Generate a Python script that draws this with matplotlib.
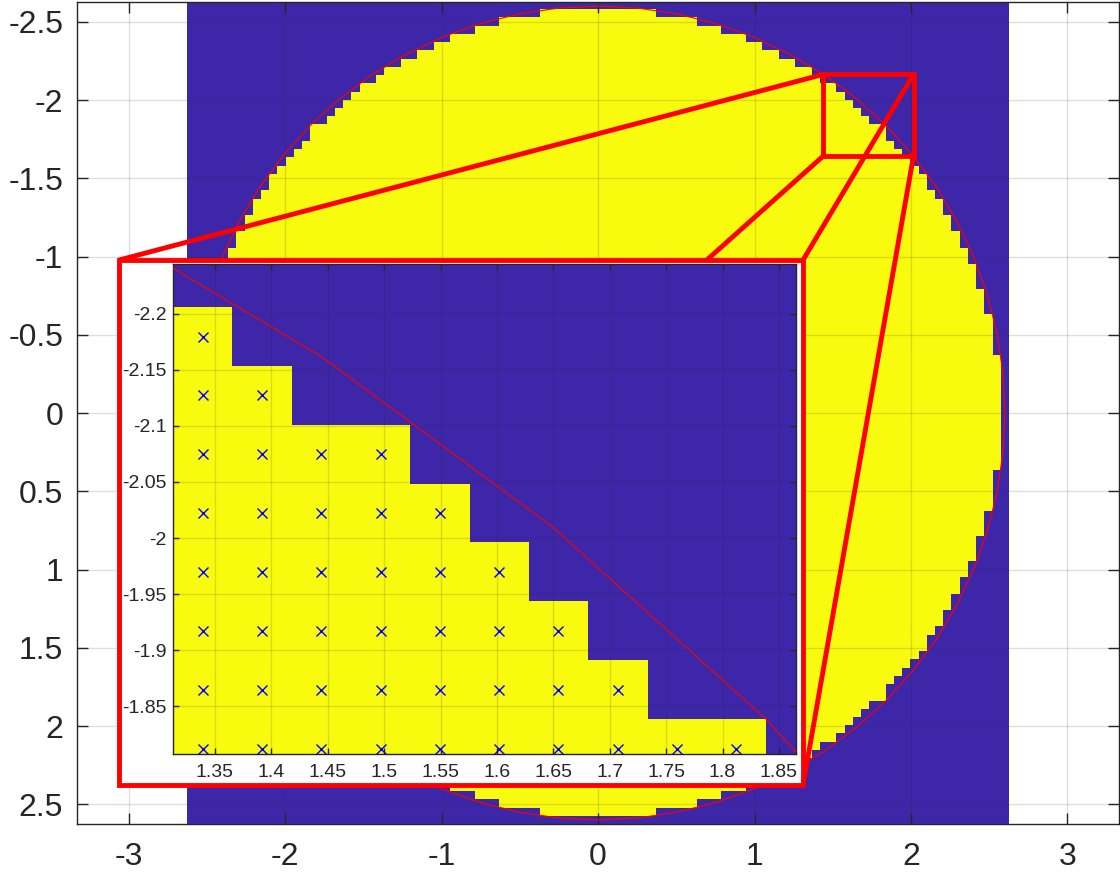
import numpy as np
import matplotlib.pyplot as plt
from matplotlib.colors import ListedColormap
from matplotlib.lines import Line2D
from matplotlib.patches import Rectangle
from matplotlib.ticker import FormatStrFormatter

plt.rcParams["font.family"] = ["Liberation Sans", "DejaVu Sans"]
plt.rcParams["axes.unicode_minus"] = False

# disc sampled on a square grid
radius = 2.6
n_grid = 100
n_circle = 65

# axis ticks
main_xticks = [-3, -2, -1, 0, 1, 2, 3]
main_yticks = [-2.5, -2, -1.5, -1, -0.5, 0, 0.5, 1, 1.5, 2, 2.5]
inset_xticks = [1.35, 1.4, 1.45, 1.5, 1.55, 1.6, 1.65, 1.7, 1.75, 1.8, 1.85]
inset_yticks = [-2.2, -2.15, -2.1, -2.05, -2, -1.95, -1.9, -1.85]

# magnified region and the box marking it on the full view
inset_xlim = (1.3131, 1.8655)
inset_ylim = (-1.8073, -2.2445)
zoom_box = (1.44, 2.016, -2.164, -1.643)  # x0, x1, y_top, y_bottom

blue = "#3E26A8"
yellow = "#F9FB0E"
dark = (0.15, 0.15, 0.15)
cmap = ListedColormap([blue, yellow])

grid = np.linspace(-radius, radius, n_grid)
step = grid[1] - grid[0]
X, Y = np.meshgrid(grid, grid)
# a cell is filled only when its whole square lies within the disc
inside = (np.abs(X) + step / 2) ** 2 + (np.abs(Y) + step / 2) ** 2 <= radius ** 2

theta = np.linspace(0, 2 * np.pi, n_circle)
cx = radius * np.cos(theta)
cy = radius * np.sin(theta)

half = radius + step / 2
extent = (-half, half, half, -half)


def style_axes(ax, size, pad_x, pad_y, tick_len):
    ax.grid(True, color=dark, alpha=0.15, linewidth=1)
    ax.set_axisbelow(False)
    ax.tick_params(direction="in", top=True, right=True, length=tick_len,
                   width=1, colors=dark, labelsize=size)
    ax.tick_params(axis="x", pad=pad_x)
    ax.tick_params(axis="y", pad=pad_y)
    ax.xaxis.set_major_formatter(FormatStrFormatter("%g"))
    ax.yaxis.set_major_formatter(FormatStrFormatter("%g"))
    for s in ax.spines.values():
        s.set_color(dark)
        s.set_linewidth(1)


fig = plt.figure(figsize=(11.2, 8.8), dpi=100)

# full view
ax = fig.add_axes([0.0688, 0.0636, 0.9304, 0.9341])
ax.imshow(inside, cmap=cmap, extent=extent, origin="upper",
          interpolation="nearest", aspect="auto", zorder=0)
ax.plot(cx, cy, color="red", linewidth=0.8, zorder=3)
ax.set_xlim(-3.33, 3.33)
ax.set_ylim(half, -half)
ax.set_xticks(main_xticks)
ax.set_yticks(main_yticks)
style_axes(ax, 23, 13, 10, 8)

x0, x1, yt, yb = zoom_box
ax.add_patch(Rectangle((x0, yt), x1 - x0, yb - yt, fill=False,
                       edgecolor="red", linewidth=3.5, zorder=4))

# white framed panel holding the magnified view
frame = (0.10625, 0.1080, 0.7170, 0.7045)  # left, bottom, right, top
fl, fb, fr, ft = frame

to_fig = fig.transFigure.inverted()


def box_corner(x, y):
    return to_fig.transform(ax.transData.transform((x, y)))


pairs = [
    (box_corner(x0, yt), (fl, ft)),
    (box_corner(x1, yt), (fr, ft)),
    (box_corner(x0, yb), (fl, fb)),
    (box_corner(x1, yb), (fr, fb)),
]
for (ax_, ay_), (bx_, by_) in pairs:
    fig.add_artist(Line2D([ax_, bx_], [ay_, by_], transform=fig.transFigure,
                          color="red", linewidth=3.5, zorder=1,
                          solid_capstyle="butt"))

fig.add_artist(Rectangle((fl, fb), fr - fl, ft - fb, transform=fig.transFigure,
                         facecolor="white", edgecolor="red", linewidth=3.5,
                         zorder=2))

# magnified view
axi = fig.add_axes([0.1547, 0.1432, 0.5564, 0.5568])
axi.set_zorder(3)
axi.imshow(inside, cmap=cmap, extent=extent, origin="upper",
           interpolation="nearest", aspect="auto", zorder=0)
axi.plot(cx, cy, color="red", linewidth=0.8, zorder=3)
axi.plot(X[inside], Y[inside], "x", color="blue", markersize=7,
         markeredgewidth=1, zorder=4)
axi.set_xlim(*inset_xlim)
axi.set_ylim(*inset_ylim)
axi.set_xticks(inset_xticks)
axi.set_yticks(inset_yticks)
style_axes(axi, 14, 7, 5, 4.5)

fig.savefig("out.png", dpi=100)
